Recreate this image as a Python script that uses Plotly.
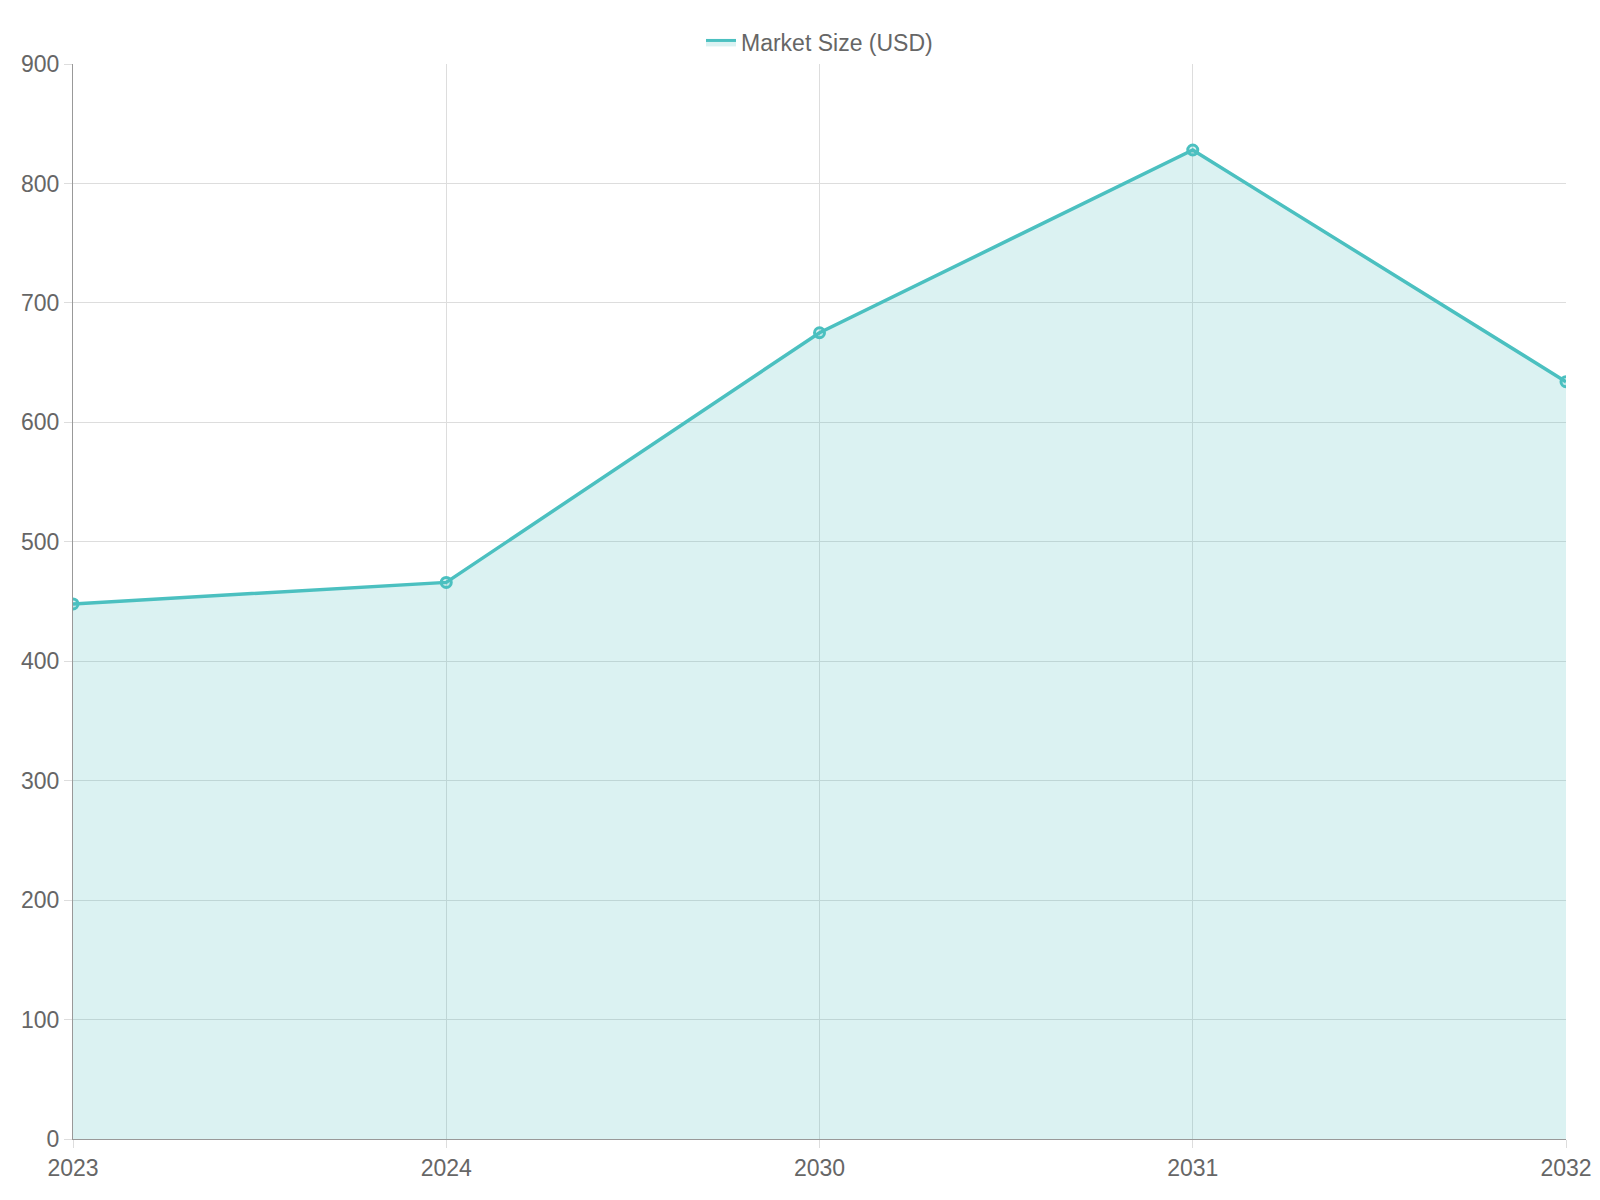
import plotly.graph_objects as go

years = ["2023", "2024", "2030", "2031", "2032"]
market_size = [448, 466, 675, 828, 634]

fig = go.Figure()
fig.add_trace(go.Scatter(
    x=years,
    y=market_size,
    mode="lines+markers",
    name="Market Size (USD)",
    showlegend=False,
    fill="tozeroy",
    fillcolor="rgba(75,192,192,0.2)",
    line=dict(color="rgb(75,192,192)", width=3.5),
    marker=dict(size=10, color="rgba(75,192,192,0.2)",
                line=dict(color="rgb(75,192,192)", width=3)),
))
# legend entry drawn as a filled box
fig.add_trace(go.Scatter(
    x=[None], y=[None],
    mode="lines",
    name="Market Size (USD)",
    fill="toself",
    fillcolor="rgba(75,192,192,0.2)",
    line=dict(color="rgb(75,192,192)", width=3),
))

fig.update_layout(
    width=1600, height=1200,
    template="plotly_white",
    paper_bgcolor="white", plot_bgcolor="white",
    font=dict(family="Liberation Sans, Arial, sans-serif", size=23, color="#666"),
    margin=dict(l=65, r=42, t=56, b=69),
    showlegend=True,
    legend=dict(orientation="h", x=0.5, xanchor="center", y=1.0, yanchor="bottom",
                font=dict(size=23, color="#666")),
    xaxis=dict(type="category", range=[0, 4], showgrid=True, gridcolor="#ddd",
               showline=True, linecolor="#999", ticks="outside", ticklen=8,
               tickcolor="#ddd", zeroline=False),
    yaxis=dict(range=[0, 900], dtick=100, showgrid=True, gridcolor="#ddd",
               showline=True, linecolor="#999", ticks="outside", ticklen=8,
               tickcolor="#ddd", zeroline=False),
)

fig.write_html("out.html")
